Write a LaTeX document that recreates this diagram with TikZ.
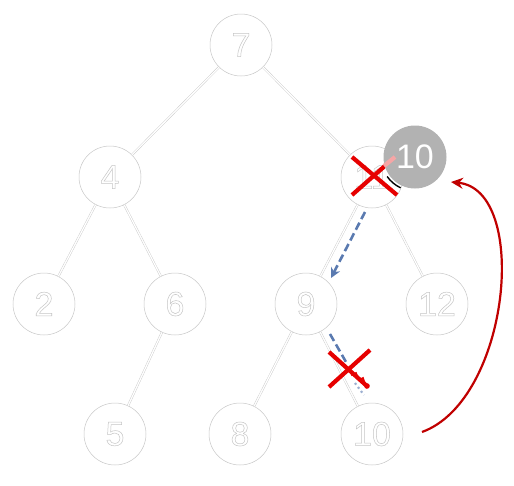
\documentclass[tikz,border=0pt]{standalone}
\usepackage{fontspec}
\setmainfont{Liberation Sans}
\usetikzlibrary{arrows.meta}
\definecolor{edgegray}{RGB}{200,200,200}
\definecolor{xred}{RGB}{230,0,0}
\definecolor{arrred}{RGB}{192,0,0}
\definecolor{dblue}{RGB}{90,122,176}
\newcommand{\hollow}[1]{\special{pdf:code 1 Tr 0.5 w}#1\special{pdf:code 0 Tr}}
\begin{document}
\begin{tikzpicture}[x=1pt,y=-1pt,
  tnode/.style={circle,draw=edgegray,line width=0.5pt,fill=white,minimum size=62pt,inner sep=0pt,
    text=gray!45,font=\fontsize{34}{34}\selectfont},
  tedge/.style={draw=edgegray,line width=0.4pt,double=white,double distance=1.3pt},
  xline/.style={draw=xred,line width=4.2pt},
  bluearr/.style={draw=dblue,line width=2.6pt,dash pattern=on 8pt off 4pt,-{Stealth[length=10pt,width=10pt]}},
]
\useasboundingbox (0,0) rectangle (514,485);
\node[tnode] (n7) at (241,45) {\hollow{7}};
\node[tnode] (n4) at (110,177) {\hollow{4}};
\node[tnode] (n11) at (372,177) {\hollow{11}};
\node[tnode] (n2) at (44,304) {\hollow{2}};
\node[tnode] (n6) at (175,304) {\hollow{6}};
\node[tnode] (n9) at (306,304) {\hollow{9}};
\node[tnode] (n12) at (437,304) {\hollow{12}};
\node[tnode] (n5) at (115,434) {\hollow{5}};
\node[tnode] (n8) at (240,434) {\hollow{8}};
\node[tnode] (n10) at (372,434) {\hollow{10}};
\draw[tedge] (n7) -- (n4);
\draw[tedge] (n7) -- (n11);
\draw[tedge] (n4) -- (n2);
\draw[tedge] (n4) -- (n6);
\draw[tedge] (n11) -- (n9);
\draw[tedge] (n11) -- (n12);
\draw[tedge] (n6) -- (n5);
\draw[tedge] (n9) -- (n8);
\draw[tedge] (n9) -- (n10);
% red X over 11
\draw[xline] (352,157) -- (397,195);
\draw[xline] (352,195) -- (395,157);
% grey node 10
\node[circle,fill=gray!60,minimum size=63pt,inner sep=0pt,text=white,
  font=\fontsize{34}{34}\selectfont] (g10) at (415,157) {10};
\draw[draw=xred!35,line width=4.2pt] (384,166) -- (395,157);
\draw[black,line width=1.4pt] (g10.center) ++(145:34) arc[start angle=145,end angle=115,radius=34];
% blue dashed arrow
\coordinate (b1) at (365,212);
\coordinate (b2) at (331,278);
\draw[bluearr] (b1) -- (b2);
% lower crossed path
\coordinate (c1) at (330,334);
\coordinate (c2) at (346,362);
\draw[draw=dblue,line width=2.6pt,dash pattern=on 8pt off 4pt] (c1) -- (c2);
\draw[draw=dblue!60,line width=2.2pt,dash pattern=on 2pt off 3pt] (355,383) -- (364,395);
\draw[xline] (329,352) -- (368,387);
\draw[xline] (329,387) -- (370,350);
\draw[draw=xred,line width=1.6pt] (349,368) -- (352,375) -- (356,373) -- (359,380) -- (363,378) -- (365,384);
\fill[xred] (367,386) circle (2.8pt);
% red curved arrow
\coordinate (r1) at (422,432);
\coordinate (r2) at (451,182);
\draw[draw=arrred,line width=2.2pt,-{Stealth[length=12pt,width=11pt]}] (r1) .. controls (510,400) and (530,190) .. (r2);
\end{tikzpicture}
\end{document}
